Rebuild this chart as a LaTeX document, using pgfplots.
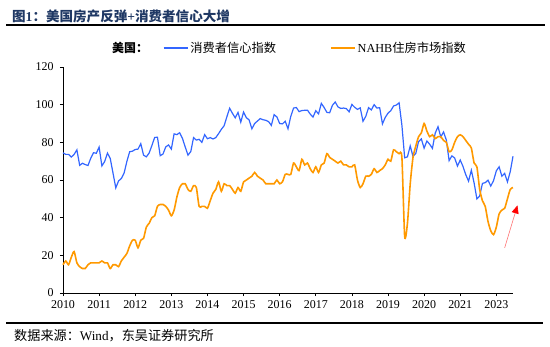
\documentclass[border=0pt]{standalone}
\usepackage{fontspec}
\setmainfont{Liberation Serif}
\newfontfamily\cjk{Noto Sans CJK SC}
\usepackage{pgfplots}
\pgfplotsset{compat=1.18}
\usepackage{pgfplotstable}
\usetikzlibrary{arrows.meta}
\definecolor{ccblue}{RGB}{51,102,255}
\definecolor{nahborange}{RGB}{255,153,0}
\definecolor{titleblue}{RGB}{31,56,100}

\pgfplotstableread{
m cc nahb
0 74.4 15
1 73.6 17
2 73.6 15
3 72.2 19
4 73.6 22
5 76.0 16
6 67.8 14
7 68.9 13
8 68.2 13
9 67.7 15
10 71.6 16
11 74.5 16
12 74.2 16
13 77.5 16
14 67.5 17
15 69.8 16
16 74.3 16
17 71.5 13
18 63.7 15
19 55.8 15
20 59.5 14
21 60.8 17
22 63.7 19
23 69.9 21
24 75.0 25
25 75.3 28
26 76.2 28
27 76.4 24
28 79.3 28
29 73.2 29
30 72.3 35
31 74.3 37
32 78.3 40
33 82.6 41
34 82.7 46
35 72.9 47
36 73.8 47
37 77.6 46
38 78.6 44
39 76.4 41
40 84.5 44
41 84.1 51
42 85.1 56
43 82.1 58
44 77.5 58
45 73.2 55
46 75.1 54
47 82.5 57
48 81.2 56
49 81.6 46
50 80.0 46
51 84.1 46
52 81.9 45
53 82.5 49
54 81.8 53
55 82.5 55
56 84.6 59
57 86.9 54
58 88.8 58
59 93.6 57
60 98.1 57
61 95.4 55
62 93.0 53
63 95.9 56
64 90.7 54
65 96.1 59
66 93.1 60
67 91.9 61
68 87.2 62
69 90.0 64
70 91.3 62
71 92.6 61
72 92.0 60
73 91.7 58
74 91.0 58
75 89.0 58
76 94.7 58
77 93.5 60
78 90.0 58
79 89.8 59
80 91.2 63
81 87.2 63
82 93.8 63
83 98.2 69
84 98.5 67
85 96.3 65
86 96.9 71
87 97.0 68
88 97.1 69
89 95.0 66
90 93.4 64
91 96.8 67
92 95.1 64
93 100.7 68
94 98.5 69
95 95.9 74
96 95.7 72
97 99.7 71
98 101.4 70
99 98.8 69
100 98.0 70
101 98.2 68
102 97.9 68
103 96.2 67
104 100.1 67
105 98.6 68
106 97.5 60
107 98.3 56
108 91.2 58
109 93.8 62
110 98.4 62
111 97.2 63
112 100.0 66
113 98.2 64
114 98.4 65
115 89.8 66
116 93.2 68
117 95.5 71
118 96.8 70
119 99.3 76
120 99.8 75
121 101.0 74
122 89.1 72
123 71.8 30
124 72.3 37
125 78.1 58
126 72.5 72
127 74.1 78
128 80.4 83
129 81.8 85
130 76.9 90
131 80.7 86
132 79.0 83
133 76.8 84
134 84.9 82
135 88.3 83
136 82.9 83
137 85.5 81
138 81.2 80
139 70.3 75
140 72.8 76
141 71.7 80
142 67.4 83
143 70.6 84
144 67.2 83
145 62.8 81
146 59.4 79
147 65.2 77
148 58.4 69
149 50.0 67
150 51.5 55
151 58.2 49
152 58.6 46
153 59.9 38
154 56.8 33
155 59.7 31
156 64.9 35
157 67.0 42
158 62.0 44
159 63.5 45
160 59.0 50
161 64.4 55
162 72.6 56
}\datatable

\begin{document}
\begin{tikzpicture}
\useasboundingbox (0bp,0bp) rectangle (550bp,-347bp);
\node[anchor=west, font=\fontsize{13.6}{15}\selectfont\bfseries, text=titleblue, inner sep=0pt] at (12bp,-16bp) {\cjk 图{\rmfamily 1}：美国房产反弹{\rmfamily +}消费者信心大增};
\draw[line width=1.5bp] (6bp,-25bp) -- (545bp,-25bp);
\draw[line width=1.5bp] (6bp,-323bp) -- (543bp,-323bp);
\node[anchor=west, font=\fontsize{13.2}{15}\selectfont, inner sep=0pt] at (14bp,-336bp) {\cjk 数据来源：{\rmfamily Wind}，东吴证券研究所};
\node[anchor=west, font=\fontsize{12}{14}\selectfont\bfseries, inner sep=0pt] at (112bp,-48bp) {\cjk 美国：};
\begin{axis}[
  at={(63bp,-293bp)}, anchor=south west,
  scale only axis, width=450bp, height=226bp,
  xmin=0, xmax=162, ymin=0, ymax=120,
  axis x line=bottom, axis y line=left,
  axis line style={-, line width=0.8bp},
  every outer x axis line/.append style={-},
  every outer y axis line/.append style={-},
  xtick={0,13,...,156},
  xticklabels={2010,2011,2012,2013,2014,2015,2016,2017,2018,2019,2020,2021,2023},
  ytick={0,20,...,120},
  tick align=outside, major tick length=3bp,
  tick style={black, line width=0.6bp},
  ticklabel style={font=\fontsize{12}{14}\selectfont},
  /pgf/number format/assume math mode=true,
  xticklabel style={yshift=-1bp},
  yticklabel style={xshift=-3bp},
  clip=false,
  legend style={at={(0.222,1.084)}, anchor=west, draw=none, fill=none,
    legend columns=-1, font=\fontsize{12.3}{14}\selectfont, inner sep=0pt,
    /tikz/every even column/.append style={column sep=52bp}},
  legend image code/.code={\draw[#1] (0bp,0bp) -- (24bp,0bp);},
]
\addplot[ccblue, line width=1.2bp] table[x=m, y=cc] {\datatable};
\addlegendentry{\cjk 消费者信心指数}
\addplot[nahborange, line width=1.6bp, smooth, tension=0.4] table[x=m, y=nahb] {\datatable};
\addlegendentry{NAHB\cjk 住房市场指数}
\draw[red!55, line width=0.6bp, -{Triangle[length=8bp, width=7bp, color=red]}] (axis cs:159,24) -- (axis cs:163.6,46.5);
\end{axis}
\end{tikzpicture}
\end{document}
